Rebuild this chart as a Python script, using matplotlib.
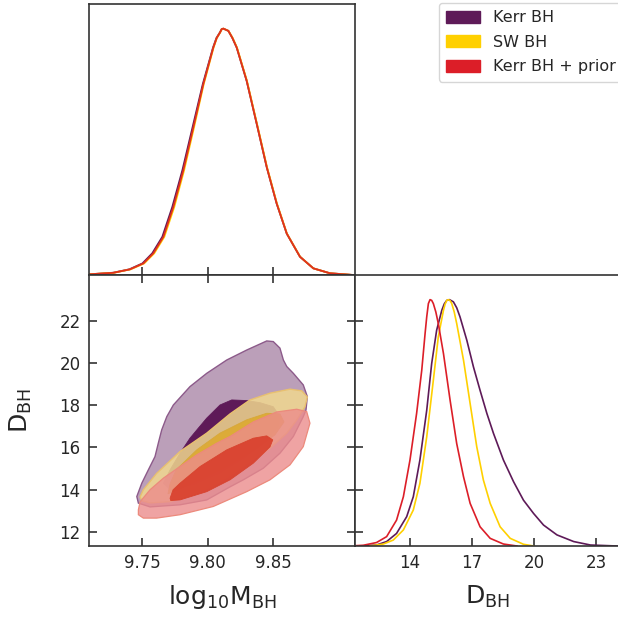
import matplotlib
matplotlib.use("Agg")
import matplotlib.pyplot as plt
from matplotlib.patches import Patch

plt.rcParams['font.family'] = ['DejaVu Sans']
plt.rcParams['mathtext.fontset'] = 'dejavusans'

# Series names and colours
series_names = ["Kerr BH", "SW BH", "Kerr BH + prior"]
line_colors = ["#5e1a58", "#ffd000", "#dc1e28"]

# Axis ranges and ticks
mass_lim = (9.7095, 9.9126)
dist_lim = (11.34, 24.16)
mass_ticks = [9.75, 9.80, 9.85]
mass_ticklabels = ["9.75", "9.80", "9.85"]
dist_ticks_y = [12, 14, 16, 18, 20, 22]
dist_ticks_x = [14, 17, 20, 23]

# 1D marginal of log10 M_BH (peak normalised to 1)
top_density = [0.003, 0.009, 0.023, 0.047, 0.088, 0.155, 0.276, 0.425, 0.600, 0.775, 0.923, 0.962, 0.984,
               0.998, 1.0, 0.991, 0.962, 0.923, 0.788, 0.613, 0.438, 0.290, 0.168, 0.074, 0.027, 0.007, 0.0]
top_x_kerr = [9.7103, 9.7278, 9.7403, 9.7503, 9.7578, 9.7655, 9.7731, 9.7808, 9.7886, 9.7964, 9.8042, 9.8068,
              9.8094, 9.8108, 9.8121, 9.8159, 9.8190, 9.8223, 9.8299, 9.8376, 9.8452, 9.8528, 9.8605, 9.8706,
              9.8808, 9.8935, 9.9113]
top_x_sw = [9.7103, 9.7284, 9.7413, 9.7516, 9.7593, 9.7670, 9.7746, 9.7821, 9.7897, 9.7971, 9.8046, 9.8071,
            9.8096, 9.8109, 9.8121, 9.8160, 9.8192, 9.8225, 9.8301, 9.8378, 9.8454, 9.8530, 9.8606, 9.8707,
            9.8808, 9.8935, 9.9113]
top_x_prior = [9.7103, 9.7281, 9.7408, 9.7510, 9.7586, 9.7663, 9.7739, 9.7815, 9.7892, 9.7968, 9.8044, 9.8070,
               9.8095, 9.8108, 9.8121, 9.8159, 9.8190, 9.8223, 9.8299, 9.8376, 9.8452, 9.8528, 9.8605, 9.8706,
               9.8808, 9.8935, 9.9113]

# 1D marginals of D_BH
d_kerr_x = [11.74, 12.38, 12.87, 13.35, 13.84, 14.16, 14.48, 14.81, 15.05, 15.29, 15.54, 15.66, 15.78, 15.91,
            16.10, 16.26, 16.42, 16.75, 17.07, 17.39, 17.72, 18.04, 18.52, 19.01, 19.49, 19.98, 20.46, 21.11,
            21.92, 22.73, 24.02]
d_kerr_y = [0, 0.004, 0.018, 0.051, 0.119, 0.2, 0.349, 0.551, 0.741, 0.876, 0.957, 0.983, 0.997, 1.0,
            0.991, 0.967, 0.930, 0.835, 0.727, 0.632, 0.538, 0.457, 0.349, 0.261, 0.186, 0.132, 0.085, 0.045,
            0.018, 0.004, 0]
d_sw_x = [12.06, 12.71, 13.19, 13.68, 14.16, 14.48, 14.81, 15.13, 15.37, 15.62, 15.70, 15.78, 15.86, 15.94,
          16.02, 16.14, 16.26, 16.59, 16.91, 17.23, 17.55, 17.88, 18.36, 18.85, 19.49, 19.98]
d_sw_y = [0, 0.008, 0.024, 0.065, 0.146, 0.254, 0.443, 0.673, 0.849, 0.957, 0.982, 0.997, 1.0, 0.996,
          0.984, 0.950, 0.903, 0.754, 0.578, 0.403, 0.268, 0.173, 0.078, 0.031, 0.007, 0]
d_prior_x = [11.09, 11.74, 12.38, 12.87, 13.35, 13.68, 14.00, 14.32, 14.57, 14.73, 14.81, 14.89, 14.97, 15.05,
             15.13, 15.25, 15.37, 15.62, 15.94, 16.26, 16.59, 16.91, 17.39, 17.88, 18.52, 19.17]
d_prior_y = [0, 0.003, 0.014, 0.038, 0.105, 0.2, 0.349, 0.538, 0.714, 0.862, 0.930, 0.984, 1.0, 0.997,
             0.984, 0.950, 0.903, 0.781, 0.592, 0.416, 0.281, 0.173, 0.078, 0.031, 0.008, 0]

# 2D contours (log10 M_BH, D_BH): outer = 95%, inner = 68%
kerr_outer_x = [9.7460, 9.7498, 9.7548, 9.7599, 9.7624, 9.7650, 9.7689, 9.7739, 9.7866, 9.7994, 9.8147, 9.8299,
                9.8452, 9.8502, 9.8553, 9.8579, 9.8605, 9.8655, 9.8731, 9.8762, 9.8752, 9.8731, 9.8655, 9.8553,
                9.8426, 9.8273, 9.8172, 9.7994, 9.7790, 9.7561, 9.7472]
kerr_outer_y = [13.68, 14.31, 14.94, 15.57, 16.20, 16.83, 17.46, 18.01, 18.88, 19.51, 20.14, 20.61,
                21.04, 21.01, 20.70, 20.14, 19.83, 19.51, 18.96, 18.41, 17.78, 17.46, 16.52, 15.73,
                15.02, 14.47, 14.14, 13.52, 13.29, 13.19, 13.37]
kerr_inner_x = [9.7866, 9.7918, 9.7994, 9.8095, 9.8185, 9.8299, 9.8401, 9.8502, 9.8553, 9.8540, 9.8452, 9.8299,
                9.8095, 9.7892, 9.7714, 9.7663, 9.7714, 9.7790]
kerr_inner_y = [16.44, 16.83, 17.39, 18.01, 18.25, 18.22, 18.12, 17.93, 17.46, 16.99, 16.36, 15.57,
                14.78, 14.23, 14.00, 14.31, 14.94, 15.73]
sw_outer_x = [9.7485, 9.7510, 9.7612, 9.7790, 9.7994, 9.8172, 9.8324, 9.8477, 9.8630, 9.8719, 9.8762, 9.8744,
              9.8681, 9.8605, 9.8477, 9.8324, 9.8172, 9.8042, 9.7918, 9.7714, 9.7561, 9.7500]
sw_outer_y = [13.66, 14.00, 14.78, 15.81, 16.68, 17.59, 18.25, 18.57, 18.76, 18.68, 18.39, 17.93,
              17.30, 16.68, 15.97, 15.33, 14.66, 14.18, 13.84, 13.44, 13.38, 13.48]
sw_inner_x = [9.7698, 9.7714, 9.7760, 9.7918, 9.8095, 9.8299, 9.8452, 9.8553, 9.8584, 9.8515, 9.8363, 9.8172,
              9.7943, 9.7775]
sw_inner_y = [13.81, 14.28, 14.94, 15.89, 16.68, 17.31, 17.62, 17.59, 17.21, 16.60, 15.89, 15.18,
              14.47, 14.00]
prior_outer_x = [9.7472, 9.7485, 9.7561, 9.7663, 9.7790, 9.7918, 9.8070, 9.8172, 9.8350, 9.8528, 9.8681,
                 9.8757, 9.8782, 9.8731, 9.8630, 9.8477, 9.8299, 9.8044, 9.7790, 9.7612, 9.7510, 9.7472]
prior_outer_y = [13.05, 13.43, 14.00, 14.55, 15.10, 15.65, 16.20, 16.52, 17.21, 17.68, 17.81,
                 17.70, 17.15, 16.04, 15.18, 14.47, 13.91, 13.21, 12.82, 12.66, 12.66, 12.82]
prior_inner_x = [9.7714, 9.7737, 9.7790, 9.7943, 9.8147, 9.8350, 9.8452, 9.8498, 9.8477, 9.8350, 9.8172,
                 9.7994, 9.7790, 9.7719]
prior_inner_y = [13.60, 14.00, 14.31, 15.10, 15.89, 16.44, 16.55, 16.36, 16.03, 15.26, 14.47,
                 13.91, 13.52, 13.49]

W, H = 618, 620
fig = plt.figure(figsize=(W / 100, H / 100), dpi=100)

left, mid, right_edge = 89, 355, 620
top, middle, bottom = 4, 275, 546
ax_top = fig.add_axes([left / W, 1 - middle / H, (mid - left) / W, (middle - top) / H])
ax_2d = fig.add_axes([left / W, 1 - bottom / H, (mid - left) / W, (bottom - middle) / H])
ax_r = fig.add_axes([mid / W, 1 - bottom / H, (right_edge - mid) / W, (bottom - middle) / H])

spine_col = "#333333"
text_col = "#262626"
for ax in (ax_top, ax_2d, ax_r):
    for s in ax.spines.values():
        s.set_color(spine_col)
        s.set_linewidth(1.2)

# top-left marginal
ax_top.plot(top_x_kerr, top_density, color=line_colors[0], lw=1.3)
ax_top.plot(top_x_sw, top_density, color=line_colors[1], lw=1.3)
ax_top.plot(top_x_prior, top_density, color="#e0301e", lw=1.3)
ax_top.set_xlim(mass_lim)
ax_top.set_ylim(0, 1.1)
ax_top.set_yticks([])
ax_top.set_xticks(mass_ticks)
ax_top.tick_params(axis='x', direction='in', length=6, width=1.2, color=spine_col, labelbottom=False)

# 2D panel
ax_2d.fill(kerr_outer_x, kerr_outer_y, facecolor=(0.369, 0.102, 0.345, 0.42), edgecolor="#8c5a8a", lw=1.0)
ax_2d.fill(kerr_inner_x, kerr_inner_y, facecolor="#5e1a58", edgecolor="#5e1a58", lw=0.6)
ax_2d.fill(sw_outer_x, sw_outer_y, facecolor=(0.945, 0.847, 0.561, 0.85), edgecolor="#e8c070", lw=1.0)
ax_2d.fill(sw_inner_x, sw_inner_y, facecolor=(0.867, 0.667, 0.188, 0.9), edgecolor="#d8a838", lw=0.6)
ax_2d.fill(prior_outer_x, prior_outer_y, facecolor=(0.925, 0.549, 0.549, 0.8), edgecolor="#ec8a7c", lw=0.9)
ax_2d.fill(prior_inner_x, prior_inner_y, facecolor=(0.851, 0.251, 0.176, 0.92), edgecolor="#d8442e", lw=0.6)
ax_2d.set_xlim(mass_lim)
ax_2d.set_ylim(dist_lim)
ax_2d.set_xticks(mass_ticks)
ax_2d.set_xticklabels(mass_ticklabels)
ax_2d.set_yticks(dist_ticks_y)
ax_2d.tick_params(direction='in', length=6, width=1.2, color=spine_col, labelcolor=text_col,
                  labelsize=12, top=True, right=True, pad=6)
ax_2d.set_xlabel(r'$\mathrm{log_{10}M_{BH}}$', fontsize=18, color=text_col, labelpad=8)
ax_2d.set_ylabel(r'$\mathrm{D_{BH}}$', fontsize=18, color=text_col, labelpad=18)

# right marginal
ax_r.plot(d_kerr_x, d_kerr_y, color=line_colors[0], lw=1.2)
ax_r.plot(d_sw_x, d_sw_y, color=line_colors[1], lw=1.2)
ax_r.plot(d_prior_x, d_prior_y, color=line_colors[2], lw=1.2)
ax_r.set_xlim(dist_lim)
ax_r.set_ylim(0, 1.1)
ax_r.set_xticks(dist_ticks_x)
# left-side ticks matching the D_BH ticks of the 2D panel
ax_r.set_yticks([1.1 * (v - dist_lim[0]) / (dist_lim[1] - dist_lim[0]) for v in dist_ticks_y])
ax_r.tick_params(direction='in', length=6, width=1.2, color=spine_col, labelcolor=text_col,
                 labelsize=12, pad=6, labelleft=False)
ax_r.set_xlabel(r'$\mathrm{D_{BH}}$', fontsize=18, color=text_col, labelpad=8)

handles = [Patch(facecolor=c, edgecolor=c) for c in line_colors]
fig.legend(handles, series_names, loc='upper left', bbox_to_anchor=(439 / W, 1 - 3 / H),
           borderaxespad=0, fontsize=11.5, handlelength=2.1, handleheight=0.8, handletextpad=0.8,
           labelspacing=0.6, borderpad=0.45, frameon=True, edgecolor="#cccccc", labelcolor=text_col)

fig.savefig("out.png", dpi=100)
